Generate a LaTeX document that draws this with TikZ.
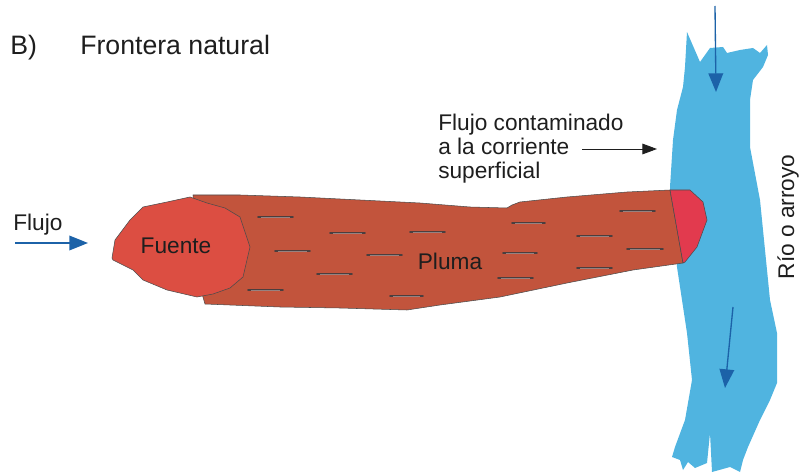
\documentclass[tikz,border=0pt]{standalone}
\usepackage{fontspec}
\setmainfont{Liberation Sans}
\usetikzlibrary{arrows.meta}

\definecolor{riverblue}{RGB}{80,180,224}
\definecolor{flowblue}{RGB}{28,98,168}
\definecolor{plumebrown}{RGB}{194,84,60}
\definecolor{sourcered}{RGB}{220,78,66}
\definecolor{tipred}{RGB}{226,58,78}
\definecolor{inkgray}{RGB}{30,30,30}
\definecolor{streak}{RGB}{75,62,62}
\definecolor{streakmid}{RGB}{150,130,128}

\tikzset{
  label/.style={inner sep=0pt, text=inkgray, font=\fontsize{17}{18}\selectfont},
  titletext/.style={inner sep=0pt, text=inkgray, font=\fontsize{20}{22}\selectfont},
  outline/.style={draw=inkgray!80, line width=0.4pt, line join=round},
  streakline/.style={draw=streak, line width=1.4pt, line cap=round},
  streakshine/.style={draw=streakmid, line width=0.35pt},
  bluearrow/.style={draw=flowblue, line width=1pt, -{Triangle[length=14pt,width=11pt]}},
  blackarrow/.style={draw=inkgray, line width=0.7pt, -{Triangle[length=11pt,width=8pt]}}
}

\begin{document}
\begin{tikzpicture}[x=0.75pt,y=-0.75pt]
  \useasboundingbox (0,0) rectangle (800,474);

  % river or stream
  \fill[riverblue] (687,32) -- (700,62) -- (710,48) -- (723,47) -- (727,53) -- (740,50)
    -- (753,48) -- (760,53) -- (767,45) -- (768,55) -- (763,67) -- (753,80) -- (750,100)
    -- (750,147) -- (760,200) -- (770,300) -- (777,333) -- (777,383) -- (770,400)
    -- (760,420) -- (748,447) -- (743,460) -- (740,472) -- (730,467) -- (712,472)
    -- (710,433) -- (707,463) -- (695,468) -- (688,462) -- (683,470) -- (680,460)
    -- (672,457) -- (675,447) -- (685,420) -- (692,380) -- (687,333) -- (677,267)
    -- (670,187) -- (673,140) -- (677,110) -- (683,87) -- (685,67) -- cycle;

  % plume body
  \filldraw[outline, fill=plumebrown] (193,195) -- (240,195) -- (300,197) -- (360,200)
    -- (420,203) -- (470,207) -- (507,208) -- (512,205) -- (520,202) -- (567,197)
    -- (627,192) -- (670,190) -- (683,263) -- (633,270) -- (567,283) -- (500,297)
    -- (440,305) -- (407,310) -- (340,308) -- (280,307) -- (230,305) -- (205,304)
    -- (198,280) -- (195,240) -- cycle;

  % plume front entering the stream
  \filldraw[outline, fill=tipred] (670,190) -- (690,190) -- (703,202) -- (707,220)
    -- (697,247) -- (685,262) -- (683,263) -- cycle;

  % contaminant source
  \filldraw[outline, fill=sourcered] (112,258) -- (115,240) -- (130,220) -- (143,207)
    -- (167,202) -- (190,197) -- (207,203) -- (225,208) -- (240,217) -- (250,247)
    -- (243,277) -- (230,288) -- (213,294) -- (197,297) -- (167,290) -- (143,280)
    -- (133,270) -- (113,260) -- cycle;

  % streaks inside the plume
  \foreach \xa/\xb/\yy in {258/293/217, 330/365/233, 410/445/232, 275/310/251,
      367/402/255, 317/352/274, 248/283/290, 390/423/296, 512/545/223,
      503/537/253, 498/533/278, 620/655/211, 577/612/236, 627/663/249, 577/612/268}
    {
    \draw[streakline] (\xa,\yy) -- (\xb,\yy);
    \draw[streakshine] (\xa+3,\yy) -- (\xb-3,\yy);
    }

  % labels
  \node[titletext, anchor=base west] (panel) at (10,55) {B)};
  \node[titletext, anchor=base west] (title) at (80,55) {Frontera natural};
  \node[label, anchor=base west] (flowlabel) at (13,230) {Flujo};
  \node[label] (source) at (176,246) {Fuente};
  \node[label] (plume) at (450,261) {Pluma};
  \node[label, anchor=north west, align=left] (discharge) at (438,114)
    {Flujo contaminado\\a la corriente\\superficial};
  \node[label, rotate=90] (stream) at (788,217) {Río o arroyo};

  % arrows
  \coordinate (flowstart) at (15,243);
  \coordinate (flowend) at (88,243);
  \draw[bluearrow] (flowstart) -- (flowend);

  \coordinate (dischargestart) at (582,149);
  \coordinate (dischargeend) at (657,149);
  \draw[blackarrow] (dischargestart) -- (dischargeend);

  \coordinate (upstream) at (715,6);
  \coordinate (upstreamend) at (716,92);
  \draw[bluearrow] (upstream) -- (upstreamend);

  \coordinate (downstream) at (733,307);
  \coordinate (downstreamend) at (725,388);
  \draw[bluearrow] (downstream) -- (downstreamend);
\end{tikzpicture}
\end{document}
